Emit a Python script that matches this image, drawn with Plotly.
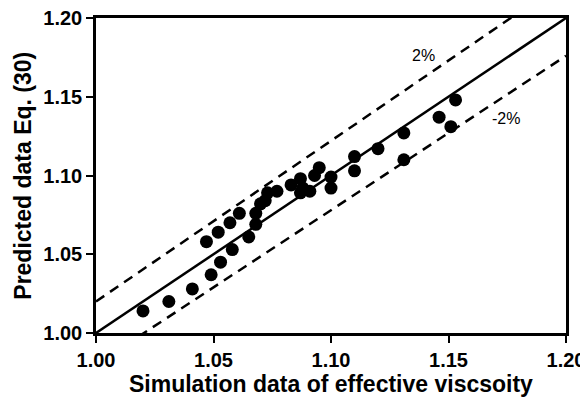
import plotly.graph_objects as go

# Simulation (x) vs predicted (y) effective viscosity
sim_x = [1.020, 1.031, 1.041, 1.049, 1.047, 1.053, 1.052, 1.058, 1.057, 1.061,
         1.065, 1.068, 1.068, 1.070, 1.072, 1.073, 1.077, 1.083, 1.087, 1.087,
         1.088, 1.091, 1.093, 1.095, 1.100, 1.100, 1.110, 1.110, 1.120, 1.131,
         1.131, 1.146, 1.151, 1.153]
pred_y = [1.014, 1.020, 1.028, 1.037, 1.058, 1.045, 1.064, 1.053, 1.070, 1.076,
          1.061, 1.069, 1.076, 1.082, 1.084, 1.089, 1.090, 1.094, 1.098, 1.089,
          1.092, 1.090, 1.100, 1.105, 1.099, 1.092, 1.112, 1.103, 1.117, 1.110,
          1.127, 1.137, 1.131, 1.148]

line_x = [1.00, 1.20]
factor_ideal = 1.00
factor_upper = 1.02
factor_lower = 0.98

tick_vals = [1.00, 1.05, 1.10, 1.15, 1.20]
tick_text = ["1.00", "1.05", "1.10", "1.15", "1.20"]

x_title = "Simulation data of effective viscsoity"
y_title = "Predicted data Eq. (30)"

font_family = "Liberation Sans, Arial, sans-serif"

fig = go.Figure()

fig.add_trace(go.Scatter(
    x=line_x, y=[v * factor_ideal for v in line_x], mode="lines",
    line=dict(color="black", width=2.5), showlegend=False, hoverinfo="skip"))
fig.add_trace(go.Scatter(
    x=line_x, y=[v * factor_upper for v in line_x], mode="lines",
    line=dict(color="black", width=2.5, dash="10px,7px"), showlegend=False, hoverinfo="skip"))
fig.add_trace(go.Scatter(
    x=line_x, y=[v * factor_lower for v in line_x], mode="lines",
    line=dict(color="black", width=2.5, dash="10px,7px"), showlegend=False, hoverinfo="skip"))

fig.add_trace(go.Scatter(
    x=sim_x, y=pred_y, mode="markers",
    marker=dict(color="black", size=13), showlegend=False))

fig.add_annotation(x=1.1395, y=1.176, text="2%", showarrow=False,
                   font=dict(family=font_family, size=16, color="black"))
fig.add_annotation(x=1.1745, y=1.1365, text="-2%", showarrow=False,
                   font=dict(family=font_family, size=16, color="black"))

# axis titles placed as paper annotations for exact positioning
fig.add_annotation(xref="paper", yref="paper", x=0.5, y=-0.163, text=x_title,
                   showarrow=False, xanchor="center", yanchor="middle",
                   font=dict(family=font_family, size=23, color="black", weight="bold"))
fig.add_annotation(xref="paper", yref="paper", x=-0.157, y=0.5, text=y_title,
                   showarrow=False, xanchor="center", yanchor="middle", textangle=-90,
                   font=dict(family=font_family, size=23, color="black", weight="bold"))

axis_common = dict(
    range=[1.0, 1.2], tickvals=tick_vals, ticktext=tick_text,
    showgrid=False, zeroline=False, automargin=False,
    ticklabeloverflow="allow",
    showline=True, linecolor="black", linewidth=2.5, mirror=True,
    ticks="outside", ticklen=7, tickwidth=2, tickcolor="black",
    tickfont=dict(family=font_family, size=20, color="black", weight="bold"),
)

# page body has an 8px default margin, so the figure is offset by 8px
fig.update_layout(
    width=580, height=395,
    margin=dict(l=88, r=22, t=10, b=70),
    paper_bgcolor="white", plot_bgcolor="white",
    xaxis=axis_common,
    yaxis=axis_common,
)

fig.write_html("out.html")
